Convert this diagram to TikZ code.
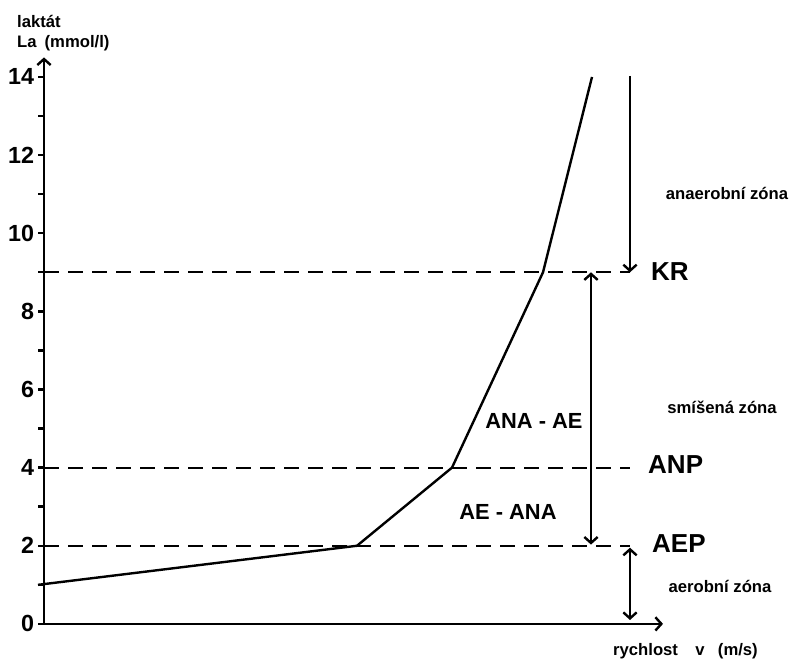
\documentclass[tikz,border=0pt]{standalone}
\usepackage{fontspec}
\setmainfont{Liberation Sans}
\usetikzlibrary{positioning,arrows.meta}
\tikzset{>={Straight Barb[length=4.5pt,width=10pt]}}

\begin{document}
\begin{tikzpicture}[x=0.75pt,y=29.3pt,line width=1.8pt]
    \bfseries
    \tikzset{
    level/.style={line width=1.6pt, dash pattern=on 11pt off 7pt},
    ticklabel/.style={left, inner sep=2pt, font=\fontsize{17.5}{20}\selectfont},
    zone/.style={inner sep=0pt, font=\fontsize{12.5}{15}\selectfont},
    threshold/.style={anchor=west, inner sep=0pt, font=\fontsize{19.5}{22}\selectfont},
    mix/.style={inner sep=0pt, font=\fontsize{16.4}{19}\selectfont},
    }
    \useasboundingbox (-44,-0.896) rectangle (745,15.97);

    \coordinate (o)    at (0,0);    % origin
    \coordinate (ytop) at (0,14.5); % end of la axis
    \coordinate (xend) at (619,0);  % end of v axis
    \coordinate (kr)   at (586,9);  % KR level, right end
    \coordinate (anp)  at (586,4);  % ANP level, right end
    \coordinate (aep)  at (586,2);  % AEP level, right end

    % Axes.
    \draw [->] (o) -- (ytop);
    \draw [->] (o) -- (xend);

    % Ticks (la).
    \draw (0,0)  -- (-6,0)  node [ticklabel] (t0)  {0};
    \draw (0,1)  -- (-6,1);
    \draw (0,2)  -- (-6,2)  node [ticklabel] (t2)  {2};
    \draw (0,3)  -- (-6,3);
    \draw (0,4)  -- (-6,4)  node [ticklabel] (t4)  {4};
    \draw (0,5)  -- (-6,5);
    \draw (0,6)  -- (-6,6)  node [ticklabel] (t6)  {6};
    \draw (0,7)  -- (-6,7);
    \draw (0,8)  -- (-6,8)  node [ticklabel] (t8)  {8};
    \draw (0,9)  -- (-6,9);
    \draw (0,10) -- (-6,10) node [ticklabel] (t10) {10};
    \draw (0,11) -- (-6,11);
    \draw (0,12) -- (-6,12) node [ticklabel] (t12) {12};
    \draw (0,13) -- (-6,13);
    \draw (0,14) -- (-6,14) node [ticklabel] (t14) {14};

    % Axis titles.
    \node [zone, anchor=west] (laktat) at (-28,15.41) {laktát};
    \node [zone, anchor=west] (la)     at (-28,14.87) {La\hspace{6pt}(mmol/l)};
    \node [zone, anchor=west] (v)      at (568,-0.69) {rychlost\hspace{13pt}v\hspace{10pt}(m/s)};

    % Levels.
    \draw [level] (o |- kr)  -- (kr);
    \draw [level] (o |- anp) -- (anp);
    \draw [level] (o |- aep) -- (aep);

    % Lactate curve.
    \coordinate (p1) at (-6,1);
    \coordinate (p2) at (313,2);
    \coordinate (p3) at (408,4);
    \coordinate (p4) at (499,9);
    \coordinate (p5) at (548,14);
    \draw (p1) -- (p2) -- (p3) -- (p4) -- (p5);

    % Zone arrows.
    \coordinate (anatop) at (586,14.03);
    \coordinate (mixtop) at (547,9);
    \coordinate (mixbot) at (547,2.03);
    \coordinate (aetop)  at (586,1.95);
    \coordinate (aebot)  at (586,0.1);
    \draw [->]  (anatop) -- (kr);
    \draw [<->] (mixtop) -- (mixbot);
    \draw [<->] (aetop)  -- (aebot);

    % Thresholds.
    \node [threshold] (KR)  at (606,9.03) {KR};
    \node [threshold] (ANP) at (603,4.08) {ANP};
    \node [threshold] (AEP) at (607,2.05) {AEP};

    % Zones.
    \node [zone] (anaer) at (683,11.03) {anaerobní zóna};
    \node [zone] (smis)  at (678,5.55)  {smíšená zóna};
    \node [zone] (aer)   at (676,0.97)  {aerobní zóna};
    \node [mix]  (anaae) at (490,5.2)   {ANA - AE};
    \node [mix]  (aeana) at (464,2.87)  {AE - ANA};
\end{tikzpicture}
\end{document}
